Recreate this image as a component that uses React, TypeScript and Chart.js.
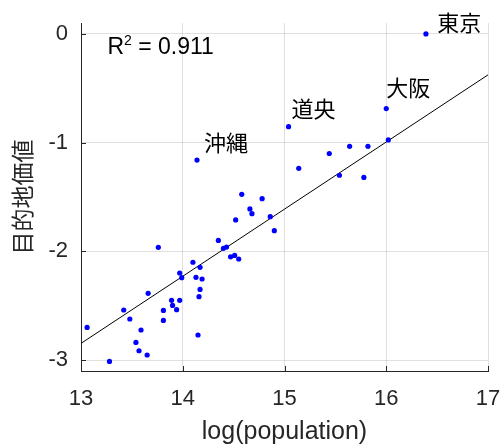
import { useEffect, useRef } from "react";
import { Chart, registerables } from "chart.js";
Chart.register(...registerables);

const popX = [16.39, 16.0, 15.04, 14.14, 16.02, 15.64, 15.82, 15.44, 15.14, 15.54, 15.78, 14.58, 14.78, 14.66, 14.68, 14.52, 14.86, 14.9, 14.35, 14.4, 14.43, 13.76, 14.47, 14.51, 14.55, 14.1, 14.17, 13.97, 13.99, 14.13, 14.19, 14.17, 14.16, 13.66, 13.89, 13.97, 13.9, 13.81, 13.94, 13.42, 13.81, 13.48, 13.59, 13.06, 14.15, 13.54, 13.57, 13.65, 13.28];
const valueY = [0.0, -0.687, -0.853, -1.16, -0.975, -1.034, -1.034, -1.1, -1.236, -1.3, -1.32, -1.475, -1.515, -1.61, -1.653, -1.711, -1.681, -1.81, -1.899, -1.972, -1.96, -1.963, -2.05, -2.037, -2.07, -2.1, -2.147, -2.199, -2.242, -2.239, -2.254, -2.35, -2.417, -2.386, -2.45, -2.45, -2.497, -2.543, -2.536, -2.539, -2.635, -2.622, -2.723, -2.699, -2.769, -2.837, -2.914, -2.953, -3.012];
const fitX = [13, 17];
const fitY = [-2.846, -0.377];
const cityNames = ["東京", "大阪", "道央", "沖縄"];
const cityLabelX = [16.5, 16.0, 15.07, 14.21];
const cityLabelY = [0.104, -0.494, -0.687, -1.0];
const xTicks = [13, 14, 15, 16, 17];
const yTicks = [-3, -2, -1, 0];
const r2Base = "R";
const r2Sup = "2";
const r2Rest = " = 0.911";
const r2X = 13.26;
const r2Y = -0.126;

const TEXT = "#262626";
const LATIN = "'Liberation Sans', Arial, sans-serif";
const CJK = "'Noto Sans CJK JP', sans-serif";

const annotations = {
  id: "annotations",
  afterDatasetsDraw(chart: any) {
    const { ctx, chartArea, scales } = chart;
    const xs = scales.x;
    const ys = scales.y;
    ctx.save();
    ctx.strokeStyle = TEXT;
    ctx.lineWidth = 1;
    xTicks.forEach((v) => {
      const px = Math.round(xs.getPixelForValue(v)) + 0.5;
      ctx.beginPath();
      ctx.moveTo(px, chartArea.bottom);
      ctx.lineTo(px, chartArea.bottom - 5);
      ctx.stroke();
    });
    yTicks.forEach((v) => {
      const py = Math.round(ys.getPixelForValue(v)) + 0.5;
      ctx.beginPath();
      ctx.moveTo(chartArea.left, py);
      ctx.lineTo(chartArea.left + 5, py);
      ctx.stroke();
    });
    ctx.fillStyle = "#000";
    ctx.textAlign = "left";
    ctx.textBaseline = "middle";
    ctx.font = `22px ${CJK}`;
    cityNames.forEach((name, i) => {
      ctx.fillText(name, xs.getPixelForValue(cityLabelX[i]), ys.getPixelForValue(cityLabelY[i]));
    });
    // R^2 annotation
    let tx = xs.getPixelForValue(r2X);
    const ty = ys.getPixelForValue(r2Y);
    ctx.font = `23px ${LATIN}`;
    ctx.fillText(r2Base, tx, ty);
    tx += ctx.measureText(r2Base).width;
    ctx.font = `14px ${LATIN}`;
    ctx.fillText(r2Sup, tx, ty - 6);
    tx += ctx.measureText(r2Sup).width;
    ctx.font = `23px ${LATIN}`;
    ctx.fillText(r2Rest, tx, ty);
    ctx.restore();
  },
};

export default function App() {
  const ref = useRef<HTMLCanvasElement>(null);
  useEffect(() => {
    const canvas = ref.current;
    if (!canvas) return;
    const chart = new Chart(canvas, {
      type: "scatter",
      data: {
        datasets: [
          {
            type: "line",
            data: fitX.map((x, i) => ({ x, y: fitY[i] })),
            borderColor: "#000",
            borderWidth: 1,
            pointRadius: 0,
            fill: false,
            order: 2,
          } as any,
          {
            data: popX.map((x, i) => ({ x, y: valueY[i] })),
            backgroundColor: "#0000ff",
            borderWidth: 0,
            pointRadius: 2.6,
            order: 1,
          },
        ],
      },
      options: {
        responsive: false,
        animation: false,
        layout: { padding: { top: 23, right: 13, left: 0, bottom: 0 } },
        plugins: { legend: { display: false }, tooltip: { enabled: false } },
        scales: {
          x: {
            type: "linear",
            min: 13,
            max: 17,
            afterBuildTicks: (s: any) => {
              s.ticks = xTicks.map((value) => ({ value }));
            },
            afterFit: (s: any) => {
              s.height = 73;
              s.paddingLeft = 0;
              s.paddingRight = 0;
            },
            grid: { color: "rgba(0,0,0,0.12)", drawTicks: false },
            border: { color: TEXT, width: 1 },
            ticks: { font: { size: 22, family: LATIN }, color: TEXT, padding: 15 },
            title: {
              display: true,
              text: "log(population)",
              font: { size: 25, family: LATIN, lineHeight: 1 },
              color: TEXT,
              padding: { top: 0, bottom: -1 },
            },
          },
          y: {
            type: "linear",
            min: -3.1,
            max: 0.1,
            afterBuildTicks: (s: any) => {
              s.ticks = yTicks.map((value) => ({ value }));
            },
            afterFit: (s: any) => {
              s.width = 81;
              s.paddingTop = 0;
              s.paddingBottom = 0;
            },
            grid: { color: "rgba(0,0,0,0.12)", drawTicks: false },
            border: { color: TEXT, width: 1 },
            ticks: { font: { size: 22, family: LATIN }, color: TEXT, padding: 13 },
            title: {
              display: true,
              text: "目的地価値",
              font: { size: 23, family: CJK, lineHeight: 1 },
              color: TEXT,
              padding: { top: 11, bottom: 0 },
            },
          },
        },
      },
      plugins: [annotations],
    });
    return () => chart.destroy();
  }, []);
  return (
    <div style={{ position: "fixed", left: 0, top: 0, width: 501, height: 444, background: "#fff" }}>
      <canvas ref={ref} width={501} height={444} style={{ display: "block" }} />
    </div>
  );
}
